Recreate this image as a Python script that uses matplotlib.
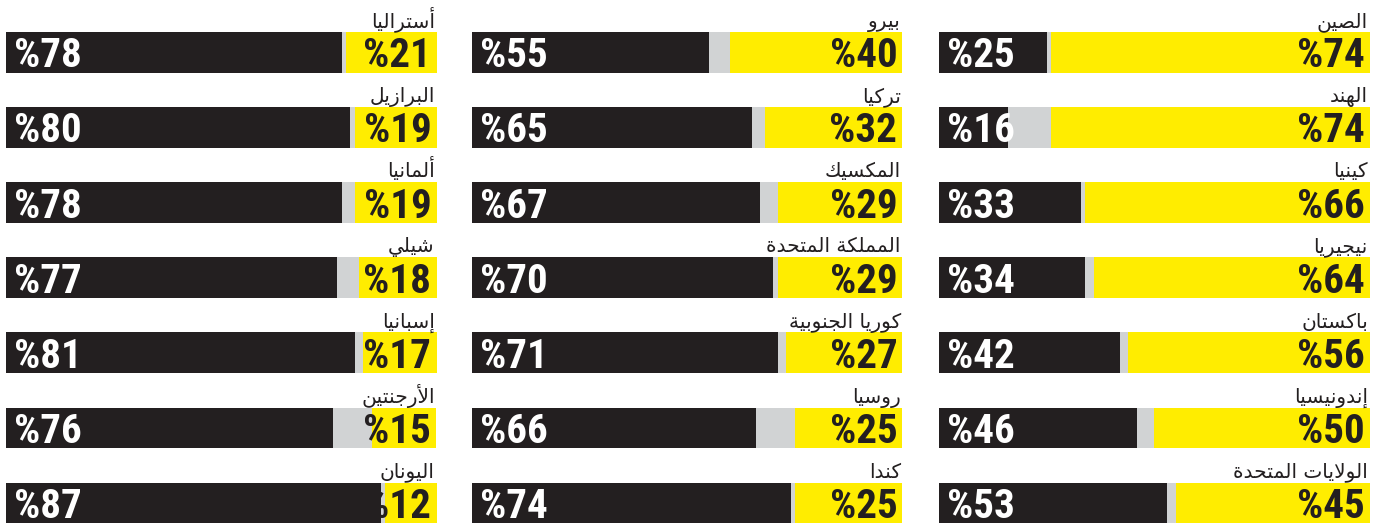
import matplotlib
matplotlib.use("Agg")
import matplotlib.pyplot as plt
from matplotlib import font_manager as fm

# ---------------- data (columns ordered right -> left as in the chart) ----------------
countries_right = ["الصين", "الهند", "كينيا", "نيجيريا", "باكستان", "إندونيسيا", "الولايات المتحدة"]
yellow_right = [74, 74, 66, 64, 56, 50, 45]
black_right = [25, 16, 33, 34, 42, 46, 53]

countries_middle = ["بيرو", "تركيا", "المكسيك", "المملكة المتحدة", "كوريا الجنوبية", "روسيا", "كندا"]
yellow_middle = [40, 32, 29, 29, 27, 25, 25]
black_middle = [55, 65, 67, 70, 71, 66, 74]

countries_left = ["أستراليا", "البرازيل", "ألمانيا", "شيلي", "إسبانيا", "الأرجنتين", "اليونان"]
yellow_left = [21, 19, 19, 18, 17, 15, 12]
black_left = [78, 80, 78, 77, 81, 76, 87]

# ---------------- minimal Arabic shaping (presentation forms) ----------------
FORMS = {
    "\u0627": ("\uFE8D", "\uFE8E"),
    "\u0623": ("\uFE83", "\uFE84"),
    "\u0625": ("\uFE87", "\uFE88"),
    "\u0622": ("\uFE81", "\uFE82"),
    "\u0628": ("\uFE8F", "\uFE90", "\uFE91", "\uFE92"),
    "\u0629": ("\uFE93", "\uFE94"),
    "\u062A": ("\uFE95", "\uFE96", "\uFE97", "\uFE98"),
    "\u062C": ("\uFE9D", "\uFE9E", "\uFE9F", "\uFEA0"),
    "\u062D": ("\uFEA1", "\uFEA2", "\uFEA3", "\uFEA4"),
    "\u062F": ("\uFEA9", "\uFEAA"),
    "\u0631": ("\uFEAD", "\uFEAE"),
    "\u0632": ("\uFEAF", "\uFEB0"),
    "\u0633": ("\uFEB1", "\uFEB2", "\uFEB3", "\uFEB4"),
    "\u0634": ("\uFEB5", "\uFEB6", "\uFEB7", "\uFEB8"),
    "\u0635": ("\uFEB9", "\uFEBA", "\uFEBB", "\uFEBC"),
    "\u0643": ("\uFED9", "\uFEDA", "\uFEDB", "\uFEDC"),
    "\u0644": ("\uFEDD", "\uFEDE", "\uFEDF", "\uFEE0"),
    "\u0645": ("\uFEE1", "\uFEE2", "\uFEE3", "\uFEE4"),
    "\u0646": ("\uFEE5", "\uFEE6", "\uFEE7", "\uFEE8"),
    "\u0647": ("\uFEE9", "\uFEEA", "\uFEEB", "\uFEEC"),
    "\u0648": ("\uFEED", "\uFEEE"),
    "\u064A": ("\uFEF1", "\uFEF2", "\uFEF3", "\uFEF4"),
}
LAM_ALEF = {
    "\u0622": ("\uFEF5", "\uFEF6"),
    "\u0623": ("\uFEF7", "\uFEF8"),
    "\u0625": ("\uFEF9", "\uFEFA"),
    "\u0627": ("\uFEFB", "\uFEFC"),
}


def shape(text):
    toks = []
    i = 0
    while i < len(text):
        c = text[i]
        if c == "\u0644" and i + 1 < len(text) and text[i + 1] in LAM_ALEF:
            toks.append(("LA", text[i + 1]))
            i += 2
        else:
            toks.append(("C", c))
            i += 1

    def joins_next(t):
        return t[0] == "C" and t[1] in FORMS and len(FORMS[t[1]]) == 4

    def is_ar(t):
        return t[0] == "LA" or t[1] in FORMS

    out = []
    for k, t in enumerate(toks):
        prev = toks[k - 1] if k > 0 else None
        nxt = toks[k + 1] if k + 1 < len(toks) else None
        jp = prev is not None and joins_next(prev)
        if t[0] == "LA":
            iso, fin = LAM_ALEF[t[1]]
            out.append(fin if jp else iso)
            continue
        c = t[1]
        if c not in FORMS:
            out.append(c)
            continue
        f = FORMS[c]
        if len(f) == 2:
            out.append(f[1] if jp else f[0])
        else:
            jn = nxt is not None and is_ar(nxt)
            if jp and jn:
                out.append(f[3])
            elif jp:
                out.append(f[1])
            elif jn:
                out.append(f[2])
            else:
                out.append(f[0])
    return "".join(reversed(out))


# ---------------- pick a narrow font for the numbers ----------------
names = {f.name for f in fm.fontManager.ttflist}
narrow = None
for cand in ["Liberation Sans Narrow", "Roboto Condensed", "Open Sans Condensed",
             "DejaVu Sans Condensed", "Noto Sans Condensed"]:
    if cand in names:
        narrow = cand
        break
if narrow is not None:
    NUM_PROPS = dict(family=[narrow, "DejaVu Sans"], fontweight="bold")
else:
    NUM_PROPS = dict(family=["DejaVu Sans"], fontweight="bold", fontstretch="condensed")

YELLOW = "#FFED00"
BLACK = "#231F20"
GRAY = "#D1D3D4"
LAB_FONT = ["DejaVu Sans"]

W, H = 1385, 525
fig = plt.figure(figsize=(W / 100, H / 100), dpi=100)
fig.patch.set_facecolor("white")

bar_h = 40.7 / 75.1
col_x = [939, 472, 6]
col_w = 430.5
top_px, bot_px = 32, 523.3

columns = [
    (countries_right, yellow_right, black_right),
    (countries_middle, yellow_middle, black_middle),
    (countries_left, yellow_left, black_left),
]

for (labels, yel, blk), x0 in zip(columns, col_x):
    ax = fig.add_axes([x0 / W, 1 - bot_px / H, col_w / W, (bot_px - top_px) / H])
    ys = list(range(len(labels)))
    gray_w = [100 - a - b for a, b in zip(yel, blk)]
    ax.barh(ys, blk, left=0, height=bar_h, color=BLACK, linewidth=0)
    ax.barh(ys, gray_w, left=blk, height=bar_h, color=GRAY, linewidth=0)
    ax.barh(ys, yel, left=[100 - v for v in yel], height=bar_h, color=YELLOW, linewidth=0)
    ax.set_xlim(0, 100)
    ax.set_ylim(len(labels) - 1 + bar_h / 2, -bar_h / 2)
    ax.axis("off")
    for y, name, a, b in zip(ys, labels, yel, blk):
        ax.text(99.6, y - bar_h / 2 - 0.065, shape(name), ha="right", va="baseline",
                fontsize=14.5, family=LAB_FONT, color=BLACK, clip_on=False)
        ax.text(98.8, y + 0.2, f"%{a}", ha="right", va="baseline",
                fontsize=29.5, color=BLACK, **NUM_PROPS)
        ax.text(1.8, y + 0.2, f"%{b}", ha="left", va="baseline",
                fontsize=29.5, color="white", **NUM_PROPS)

fig.savefig("out.png", dpi=100, facecolor="white")
